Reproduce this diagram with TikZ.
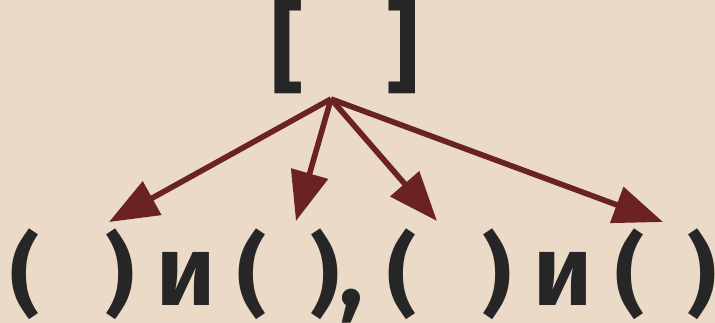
\documentclass[tikz,border=0pt]{standalone}
\usepackage{fontspec}
\setmainfont{Fira Sans}
\usetikzlibrary{arrows.meta}
\definecolor{paper}{RGB}{235,218,200}
\definecolor{ink}{RGB}{38,38,38}
\definecolor{wine}{RGB}{106,34,34}
\tikzset{
  glyph/.style={text=ink, font=\fontsize{75}{80}\selectfont\bfseries, inner sep=0pt, anchor=base},
  paren/.style={glyph, font=\fontsize{67}{72}\selectfont\bfseries},
  pointer/.style={draw=wine, line width=4.2pt, -{Triangle[length=37pt,width=28pt]}}
}
\begin{document}
\begin{tikzpicture}[x=0.75pt,y=0.75pt,yscale=-1,xscale=1]
\fill[paper] (0,0) rectangle (715,323);
\useasboundingbox (0,0) rectangle (715,323);

% Text Node
\node[glyph] (lbrack) at (288,82) {[};
% Text Node
\node[glyph] (rbrack) at (403,82) {]};

% Text Node
\node[paren] (lpa) at (25,306) {(};
\node[paren] (rpa) at (120,306) {)};
\node[glyph] (ia) at (186.5,306) {и};
\node[paren] (lpb) at (252.5,306) {(};
\node[paren] (rpb) at (325,306) {)};
\node[glyph] (comma) at (351,306) {,};
% Text Node
\node[paren] (lpc) at (402,306) {(};
\node[paren] (rpc) at (497,306) {)};
\node[glyph] (ib) at (563,306) {и};
\node[paren] (lpd) at (630,306) {(};
\node[paren] (rpd) at (702,306) {)};

\coordinate (root) at (331,99);
\coordinate (tipa) at (109,222);
\coordinate (tipb) at (296,221);
\coordinate (tipc) at (437,221);
\coordinate (tipd) at (663,222);

%Straight Lines
\draw[pointer] (root) -- (tipa);
\draw[pointer] (root) -- (tipb);
\draw[pointer] (root) -- (tipc);
\draw[pointer] (root) -- (tipd);

\end{tikzpicture}
\end{document}
